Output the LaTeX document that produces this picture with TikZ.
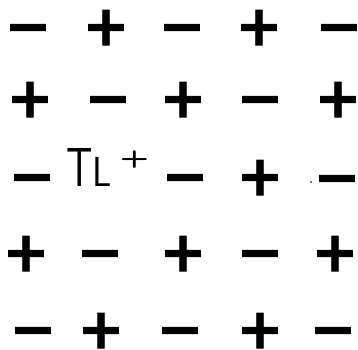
\documentclass[tikz,border=0pt]{standalone}
\usepackage{fontspec}
\newfontfamily\signfont{DejaVu Sans}[BoldFeatures={FakeBold=1.5}]
\begin{document}
\begin{tikzpicture}[x=1pt,y=1pt,
  sign/.style={font=\signfont\bfseries\fontsize{56}{56}\selectfont, inner sep=0pt,
    text height=36.3pt, text depth=0pt, anchor=center},
  ion/.style={font=\sffamily\fontsize{55}{55}\selectfont, inner sep=0pt, anchor=base west}]
\useasboundingbox (0,0) rectangle (358,349);
% ---- negative sites ----
\foreach \x/\y [count=\n] in {28/322,182/322,339/322, 108/250,260/250,
    32/172,185/172,337/171, 100/96,260/96, 33/19,180/19,333/19}
  \node[sign] (minus-\n) at (\x,\y) {−};
% ---- positive sites ----
\foreach \x/\y [count=\n] in {106/322,259/322, 30/250,183/250,338/250,
    260/172, 26/96,183/96,335/96, 101/19,260/19}
  \node[sign] (plus-\n) at (\x,\y) {+};
% ---- the thallium ion on a negative site ----
\node[ion] (tl) at (66,163) {\scalebox{0.75}[1]{T}\scalebox{0.9}[1]{\fontsize{42}{42}\selectfont L}\hspace{8pt}\raisebox{21pt}{\scalebox{1}[0.7]{\bfseries\fontsize{34}{34}\selectfont +}}};
% speck
\fill (311,167) circle (0.9);
\end{tikzpicture}
\end{document}
